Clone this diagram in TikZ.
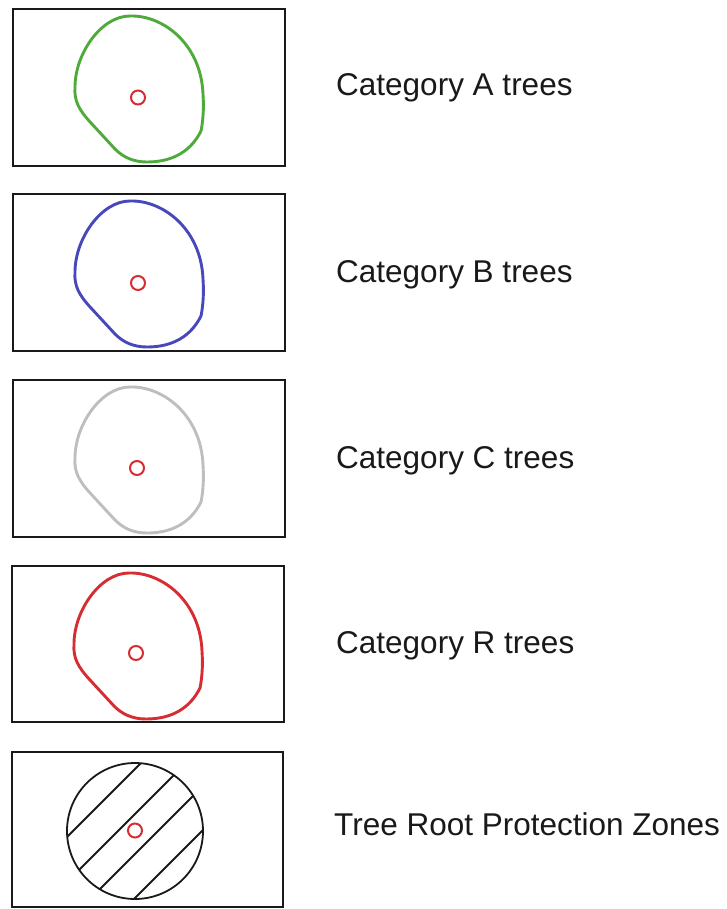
\documentclass[tikz,border=0pt]{standalone}
\usepackage{fontspec}
\setmainfont{Liberation Sans}
\definecolor{cgreen}{RGB}{78,170,58}
\definecolor{cblue}{RGB}{72,72,188}
\definecolor{cgray}{RGB}{190,190,190}
\definecolor{cred}{RGB}{214,44,50}
\definecolor{cbox}{RGB}{25,25,25}
\tikzset{
  framebox/.style={draw=cbox, line width=1.8pt},
  blobline/.style={line width=2.9pt, line join=round},
  treept/.style={draw=cred, line width=2pt},
  label/.style={anchor=base west, inner sep=0pt, font=\fontsize{31.5}{37}\selectfont, text=black!90},
}
\newcommand\blobshape[2]{%
  \draw[blobline, draw=#2, shift={(#1)}]
    (117,7) .. controls (150,6) and (188,35) .. (190,85)
    .. controls (191,100) and (190,112) .. (188,122)
    .. controls (178,142) and (160,153) .. (134,153)
    .. controls (120,153) and (110,148) .. (102,140)
    -- (78,114)
    .. controls (66,101) and (61,92) .. (62,78)
    .. controls (62,45) and (88,7) .. (117,7) -- cycle;}
\begin{document}
\begin{tikzpicture}[x=1pt, y=-1pt]
\useasboundingbox (0,0) rectangle (727,909);
% box 1
\draw[framebox] (13,9) rectangle (285,166);
\coordinate (o1) at (13,9);
\blobshape{o1}{cgreen}
\draw[treept] (138,97.5) circle (7);
\node[label] (l1) at (336,96) {Category A trees};
% box 2
\draw[framebox] (13,194) rectangle (285,351);
\coordinate (o2) at (13,194);
\blobshape{o2}{cblue}
\draw[treept] (138,283) circle (7);
\node[label] (l2) at (336,282) {Category B trees};
% box 3
\draw[framebox] (13,380) rectangle (285,537);
\coordinate (o3) at (13,380);
\blobshape{o3}{cgray}
\draw[treept] (137,468) circle (7);
\node[label] (l3) at (336,468) {Category C trees};
% box 4
\draw[framebox] (12,566) rectangle (284,722);
\coordinate (o4) at (12,566);
\blobshape{o4}{cred}
\draw[treept] (136,653) circle (7);
\node[label] (l4) at (336,653) {Category R trees};
% box 5
\draw[framebox] (12,752) rectangle (283,907);
\begin{scope}
  \clip (135,831) circle (68);
  \foreach \d in {-62,-17,23,67} {
    \draw[line width=1.8pt, cbox] ({135+\d/2-100},{831+\d/2+100}) -- ({135+\d/2+100},{831+\d/2-100});
  }
\end{scope}
\draw[line width=1.8pt, cbox] (135,831) circle (68);
\draw[treept] (135,830.5) circle (7);
\node[label] (l5) at (334,835) {Tree Root Protection Zones};
\end{tikzpicture}
\end{document}
